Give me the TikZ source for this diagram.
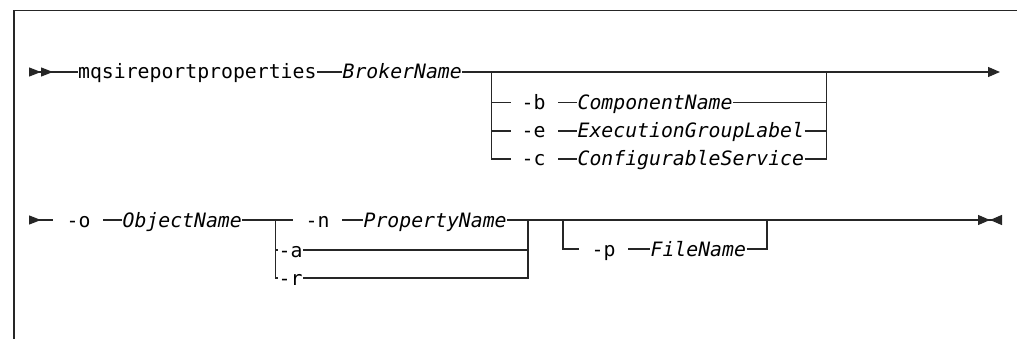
\documentclass[tikz,border=0pt]{standalone}
\usepackage{fontspec}
\setmonofont{DejaVu Sans Mono}
\usetikzlibrary{arrows.meta}
\newcommand{\railfont}{\fontsize{19.8}{23}\selectfont\ttfamily}
\tikzset{
  kw/.style={anchor=west,inner sep=0pt,text height=16pt,text depth=2pt,text=black,font=\railfont},
  var/.style={kw,font=\railfont\itshape},
  gapl/.style={shorten <=12pt},
  gapr/.style={shorten >=10pt},
}
\begin{document}
\begin{tikzpicture}[x=1pt,y=-1pt,line width=1.2pt,black!85]
\useasboundingbox (0,0) rectangle (1017,339);
% frame
\draw[line width=1.5pt] (1017,10.5) -- (14,10.5) -- (14,339);

% first line
\coordinate (in1) at (29,72);
\node[kw] (cmd) at (77.5,72) {mqsireportproperties};
\node[var] (broker) at (342,72) {BrokerName};
\coordinate (bl) at (491.5,72);
\coordinate (br) at (826.5,72);
\coordinate (out1) at (1000,72);
\draw[{Triangle[reversed,length=12pt,width=9pt]Triangle[reversed,length=12pt,width=9pt]}-] (in1) -- (cmd.west);
\draw (cmd.east) -- (broker.west);
\draw[-{Triangle[length=12pt,width=10pt]}] (broker.east) -- (out1);

\node[kw] (optb) at (521,102.5) {-b};
\node[var] (compname) at (577,102.5) {ComponentName};
\node[kw] (opte) at (521,131) {-e};
\node[var] (egname) at (577,131) {ExecutionGroupLabel};
\node[kw] (optc) at (521,159) {-c};
\node[var] (cfgname) at (577,159) {ConfigurableService};
\foreach \o/\v in {optb/compname,opte/egname,optc/cfgname}{
  \draw[gapr] (bl) |- (\o.west);
  \draw[gapl] (\o.east) -- (\v.west);
  \draw (\v.east) -| (br);
}

% second line
\coordinate (in2) at (29,220);
\node[kw] (opto) at (66,220) {-o};
\node[var] (objname) at (122,220) {ObjectName};
\coordinate (al) at (275.5,220);
\node[kw] (optn) at (305,220) {-n};
\node[var] (propname) at (363,220) {PropertyName};
\coordinate (ar) at (528,220);
\node[kw] (opta) at (278,250) {-a};
\node[kw] (optr) at (278,278) {-r};
\coordinate (pl) at (563,220);
\coordinate (pr) at (767,220);
\node[kw] (optp) at (591,249) {-p};
\node[var] (filename) at (650,249) {FileName};
\coordinate (out2) at (1002,220);
\draw[{Triangle[reversed,length=12pt,width=9pt]}-,shorten >=13pt] (in2) -- (opto.west);
\draw[gapl] (opto.east) -- (objname.west);
\draw[shorten >=12pt] (objname.east) -- (optn.west);
\draw[gapl] (optn.east) -- (propname.west);
\draw[-{Triangle[length=12pt,width=10pt]Triangle[reversed,length=12pt,width=10pt]}] (propname.east) -- (out2);
\foreach \o in {opta,optr}{
  \draw (al) |- (\o.west);
  \draw (\o.east) -| (ar);
}
\draw[shorten >=12pt] (pl) |- (optp.west);
\draw[gapl] (optp.east) -- (filename.west);
\draw (filename.east) -| (pr);
\end{tikzpicture}
\end{document}
